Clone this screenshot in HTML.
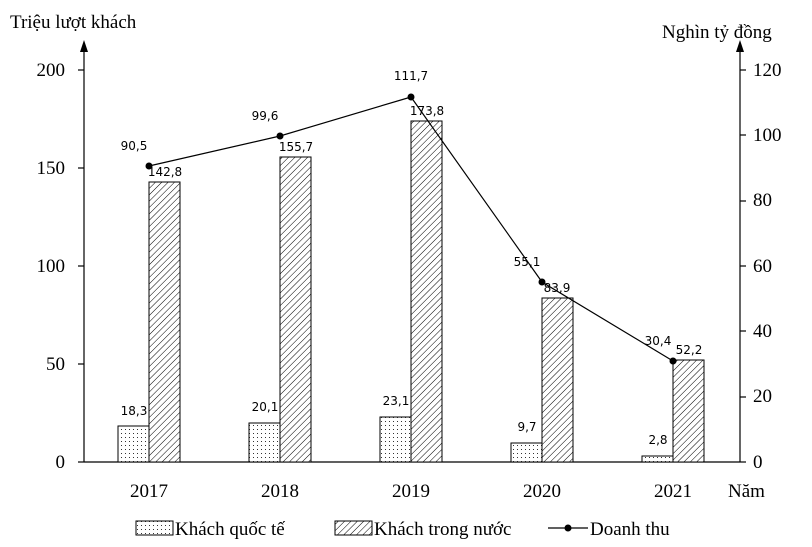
<!DOCTYPE html>
<html><head><meta charset="utf-8"><style>body{margin:0;background:#fff}svg{display:block}</style></head><body>
<svg width="812" height="547" xmlns="http://www.w3.org/2000/svg">
<defs>
<pattern id="h" width="4.5" height="4.5" patternUnits="userSpaceOnUse" patternTransform="rotate(45)"><rect width="4.5" height="4.5" fill="#fff"/><line x1="0" y1="0" x2="0" y2="4.5" stroke="#000" stroke-width="1"/></pattern>
<pattern id="d" width="4" height="4" patternUnits="userSpaceOnUse"><rect width="4" height="4" fill="#fff"/><rect x="1" y="1" width="1" height="1" fill="#333"/></pattern>
</defs>
<g font-family="Liberation Serif, serif" font-size="19" fill="#000">
<text x="10" y="28">Triệu lượt khách</text>
<text x="662" y="38">Nghìn tỷ đồng</text>
<g text-anchor="end"><text x="65" y="76">200</text><text x="65" y="174">150</text><text x="65" y="272">100</text><text x="65" y="370">50</text><text x="65" y="468">0</text></g>
<g text-anchor="start"><text x="753" y="76">120</text><text x="753" y="141">100</text><text x="753" y="206">80</text><text x="753" y="272">60</text><text x="753" y="337">40</text><text x="753" y="402">20</text><text x="753" y="468">0</text></g>
<g text-anchor="middle"><text x="149" y="497">2017</text><text x="280" y="497">2018</text><text x="411" y="497">2019</text><text x="542" y="497">2020</text><text x="673" y="497">2021</text></g>
<text x="728" y="497">Năm</text>
<text x="175" y="535">Khách quốc tế</text><text x="374" y="535">Khách trong nước</text><text x="590" y="535">Doanh thu</text>
</g>
<g stroke="#000" stroke-width="1.2" fill="none">
<line x1="84" y1="462" x2="84" y2="45"/><line x1="740" y1="462" x2="740" y2="45"/><line x1="84" y1="462" x2="740" y2="462"/>
<line x1="78" y1="70" x2="84" y2="70"/><line x1="78" y1="168" x2="84" y2="168"/><line x1="78" y1="266" x2="84" y2="266"/><line x1="78" y1="364" x2="84" y2="364"/><line x1="78" y1="462" x2="84" y2="462"/>
<line x1="740" y1="70" x2="746" y2="70"/><line x1="740" y1="135" x2="746" y2="135"/><line x1="740" y1="201" x2="746" y2="201"/><line x1="740" y1="266" x2="746" y2="266"/><line x1="740" y1="331" x2="746" y2="331"/><line x1="740" y1="397" x2="746" y2="397"/><line x1="740" y1="462" x2="746" y2="462"/>
</g>
<polygon points="84,40 80,52 88,52" fill="#000"/><polygon points="740,40 736,52 744,52" fill="#000"/>
<g stroke="#000" stroke-width="1">
<rect x="118" y="426" width="31" height="36" fill="url(#d)"/><rect x="149" y="182" width="31" height="280" fill="url(#h)"/>
<rect x="249" y="423" width="31" height="39" fill="url(#d)"/><rect x="280" y="157" width="31" height="305" fill="url(#h)"/>
<rect x="380" y="417" width="31" height="45" fill="url(#d)"/><rect x="411" y="121" width="31" height="341" fill="url(#h)"/>
<rect x="511" y="443" width="31" height="19" fill="url(#d)"/><rect x="542" y="298" width="31" height="164" fill="url(#h)"/>
<rect x="642" y="456" width="31" height="6" fill="url(#d)"/><rect x="673" y="360" width="31" height="102" fill="url(#h)"/>
</g>
<polyline points="149,166 280,136 411,97 542,282 673,361" fill="none" stroke="#000" stroke-width="1.2"/>
<g fill="#000"><circle cx="149" cy="166" r="3.5"/><circle cx="280" cy="136" r="3.5"/><circle cx="411" cy="97" r="3.5"/><circle cx="542" cy="282" r="3.5"/><circle cx="673" cy="361" r="3.5"/></g>
<g font-family="DejaVu Sans, sans-serif" font-size="12" fill="#000" text-anchor="middle">
<text x="134" y="415">18,3</text><text x="165" y="176">142,8</text><text x="134" y="150">90,5</text>
<text x="265" y="411">20,1</text><text x="296" y="151">155,7</text><text x="265" y="120">99,6</text>
<text x="396" y="405">23,1</text><text x="427" y="115">173,8</text><text x="411" y="80">111,7</text>
<text x="527" y="431">9,7</text><text x="557" y="292">83,9</text><text x="527" y="266">55,1</text>
<text x="658" y="444">2,8</text><text x="689" y="354">52,2</text><text x="658" y="345">30,4</text>
</g>
<rect x="136" y="521" width="37" height="14" fill="url(#d)" stroke="#000"/>
<rect x="335" y="521" width="37" height="14" fill="url(#h)" stroke="#000"/>
<line x1="548" y1="528" x2="588" y2="528" stroke="#000" stroke-width="1.2"/><circle cx="568" cy="528" r="3.5"/>
</svg>
</body></html>
